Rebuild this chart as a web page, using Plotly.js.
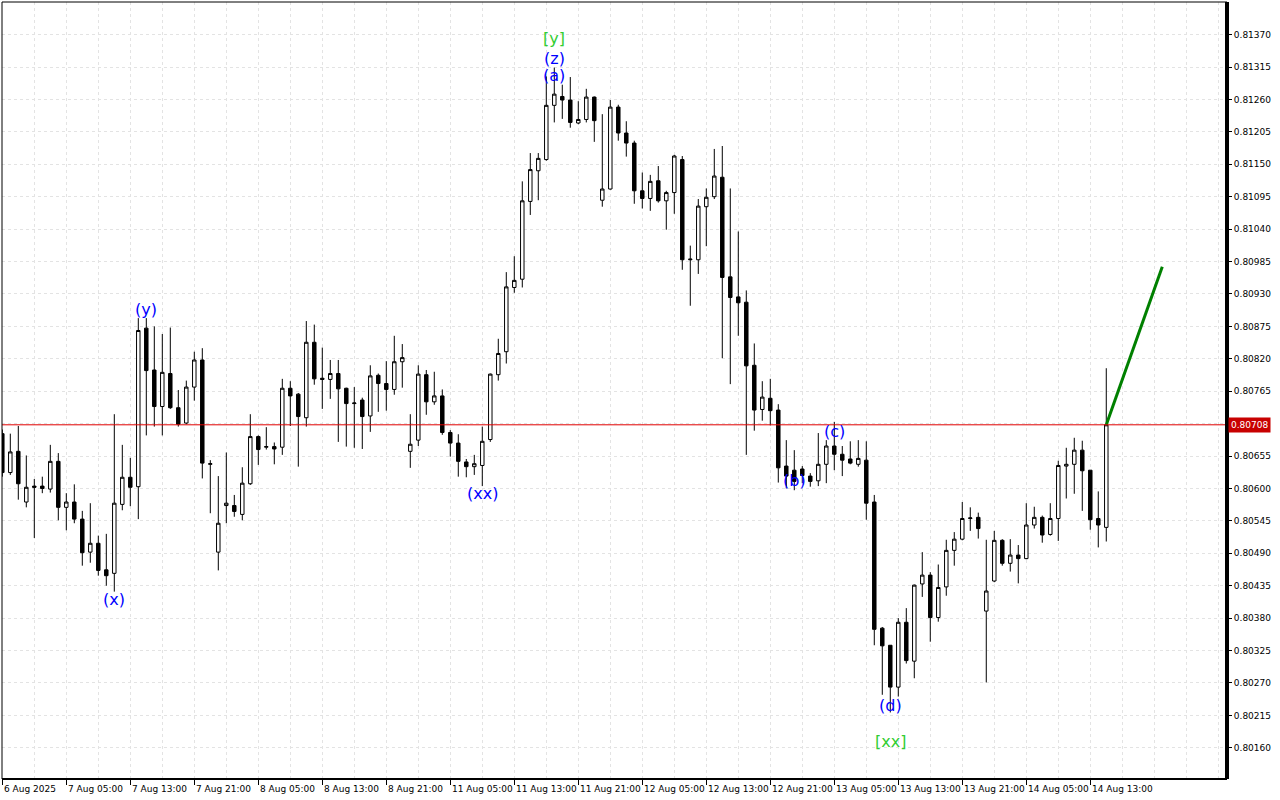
<!DOCTYPE html>
<html>
<head>
<meta charset="utf-8">
<script src="https://cdn.plot.ly/plotly-3.0.1.min.js"></script>
<style>
html,body{margin:0;padding:0;background:#fff;}
#chart{width:1280px;height:800px;}
</style>
</head>
<body>
<div id="chart"></div>
<script>
// ---- data (hourly candles, index 0 = 6 Aug 2025 21:00) ----
const open = [0.80693,0.80627,0.80663,0.80577,0.80604,0.80604,0.80599,0.80646,0.80568,0.80577,
0.80548,0.80492,0.80507,0.80462,0.80456,0.80573,0.80619,0.80603,0.80872,0.80801,
0.80739,0.80795,0.80737,0.80711,0.80772,0.80818,0.80641,0.80492,0.80571,0.80571,
0.80556,0.80608,0.80688,0.80670,0.80671,0.80670,0.80770,0.80760,0.80720,0.80848,
0.80787,0.80785,0.80795,0.80770,0.80744,0.80750,0.80723,0.80792,0.80778,0.80768,
0.80815,0.80663,0.80682,0.80793,0.80747,0.80757,0.80695,0.80677,0.80645,0.80637,
0.80639,0.80683,0.80793,0.80832,0.80941,0.80955,0.81087,0.81139,0.81158,0.81250,
0.81265,0.81259,0.81220,0.81226,0.81264,0.81089,0.81108,0.81247,0.81203,0.81186,
0.81105,0.81092,0.81122,0.81088,0.81102,0.81158,0.80988,0.80988,0.81078,0.81095,
0.81128,0.80959,0.80925,0.80916,0.80809,0.80734,0.80753,0.80733,0.80638,0.80631,
0.80633,0.80621,0.80613,0.80641,0.80672,0.80658,0.80650,0.80641,0.80648,0.80577,
0.80363,0.80334,0.80263,0.80373,0.80307,0.80438,0.80453,0.80381,0.80433,0.80495,
0.80514,0.80549,0.80551,0.80392,0.80443,0.80512,0.80473,0.80487,0.80481,0.80538,
0.80551,0.80522,0.80549,0.80638,0.80641,0.80665,0.80631,0.80549,0.80534];
const high = [0.80700,0.80693,0.80706,0.80656,0.80616,0.80620,0.80674,0.80660,0.80592,0.80607,
0.80562,0.80575,0.80520,0.80523,0.80726,0.80674,0.80652,0.80889,0.80889,0.80875,
0.80862,0.80873,0.80767,0.80783,0.80832,0.80838,0.80648,0.80621,0.80661,0.80589,
0.80636,0.80726,0.80690,0.80704,0.80678,0.80786,0.80782,0.80762,0.80884,0.80878,
0.80839,0.80818,0.80818,0.80771,0.80772,0.80754,0.80809,0.80795,0.80816,0.80859,
0.80845,0.80726,0.80809,0.80801,0.80798,0.80768,0.80699,0.80692,0.80650,0.80657,
0.80705,0.80795,0.80854,0.80967,0.80994,0.81121,0.81169,0.81169,0.81299,0.81314,
0.81285,0.81298,0.81257,0.81278,0.81265,0.81235,0.81259,0.81251,0.81223,0.81190,
0.81136,0.81132,0.81147,0.81105,0.81166,0.81164,0.81012,0.81091,0.81109,0.81176,
0.81181,0.81109,0.81036,0.80936,0.80846,0.80782,0.80786,0.80743,0.80682,0.80665,
0.80638,0.80626,0.80694,0.80682,0.80713,0.80672,0.80680,0.80682,0.80680,0.80589,
0.80365,0.80334,0.80380,0.80397,0.80437,0.80492,0.80458,0.80471,0.80513,0.80526,
0.80577,0.80568,0.80559,0.80513,0.80528,0.80514,0.80514,0.80504,0.80575,0.80569,
0.80554,0.80575,0.80647,0.80669,0.80686,0.80681,0.80631,0.80595,0.80804];
const low = [0.80620,0.80623,0.80581,0.80568,0.80516,0.80592,0.80593,0.80546,0.80529,0.80541,
0.80469,0.80474,0.80452,0.80435,0.80425,0.80563,0.80570,0.80548,0.80690,0.80705,
0.80690,0.80735,0.80705,0.80709,0.80749,0.80617,0.80558,0.80461,0.80541,0.80552,
0.80546,0.80606,0.80640,0.80666,0.80641,0.80657,0.80706,0.80637,0.80705,0.80776,
0.80735,0.80752,0.80679,0.80671,0.80669,0.80667,0.80696,0.80730,0.80732,0.80759,
0.80771,0.80635,0.80672,0.80725,0.80742,0.80691,0.80654,0.80620,0.80619,0.80623,
0.80604,0.80679,0.80783,0.80812,0.80932,0.80941,0.81064,0.81089,0.81156,0.81221,
0.81227,0.81212,0.81218,0.81221,0.81188,0.81078,0.81107,0.81190,0.81163,0.81083,
0.81075,0.81071,0.81085,0.81039,0.81066,0.80971,0.80910,0.80964,0.81011,0.81091,
0.80821,0.80777,0.80859,0.80657,0.80698,0.80715,0.80707,0.80610,0.80600,0.80597,
0.80609,0.80603,0.80604,0.80609,0.80631,0.80621,0.80641,0.80637,0.80547,0.80334,
0.80250,0.80220,0.80247,0.80303,0.80278,0.80416,0.80340,0.80374,0.80418,0.80469,
0.80512,0.80528,0.80515,0.80271,0.80441,0.80469,0.80459,0.80439,0.80480,0.80532,
0.80508,0.80520,0.80511,0.80583,0.80591,0.80562,0.80530,0.80500,0.80510];
const close = [0.80627,0.80662,0.80608,0.80602,0.80602,0.80600,0.80646,0.80568,0.80577,0.80548,
0.80491,0.80507,0.80461,0.80452,0.80575,0.80619,0.80602,0.80868,0.80800,0.80739,
0.80797,0.80737,0.80709,0.80772,0.80818,0.80643,0.80642,0.80541,0.80575,0.80561,
0.80609,0.80688,0.80666,0.80671,0.80667,0.80770,0.80757,0.80722,0.80848,0.80786,
0.80785,0.80795,0.80769,0.80744,0.80745,0.80722,0.80791,0.80778,0.80768,0.80815,
0.80822,0.80675,0.80794,0.80747,0.80757,0.80695,0.80677,0.80646,0.80637,0.80642,
0.80680,0.80794,0.80829,0.80942,0.80953,0.81088,0.81141,0.81160,0.81250,0.81269,
0.81259,0.81221,0.81226,0.81264,0.81224,0.81108,0.81247,0.81203,0.81186,0.81105,
0.81092,0.81121,0.81088,0.81102,0.81164,0.80988,0.80989,0.81079,0.81094,0.81130,
0.80958,0.80924,0.80915,0.80808,0.80733,0.80755,0.80732,0.80635,0.80621,0.80612,
0.80622,0.80612,0.80641,0.80672,0.80658,0.80648,0.80643,0.80651,0.80575,0.80361,
0.80333,0.80263,0.80373,0.80308,0.80436,0.80453,0.80381,0.80432,0.80495,0.80514,
0.80549,0.80550,0.80532,0.80426,0.80512,0.80473,0.80487,0.80481,0.80538,0.80551,
0.80521,0.80549,0.80639,0.80641,0.80665,0.80630,0.80547,0.80538,0.80708];

const xTickLabels = ["6 Aug 2025","7 Aug 05:00","7 Aug 13:00","7 Aug 21:00","8 Aug 05:00","8 Aug 13:00",
"8 Aug 21:00","11 Aug 05:00","11 Aug 13:00","11 Aug 21:00","12 Aug 05:00","12 Aug 13:00",
"12 Aug 21:00","13 Aug 05:00","13 Aug 13:00","13 Aug 21:00","14 Aug 05:00","14 Aug 13:00"];
const xTickIndex = [0,8,16,24,32,40,48,56,64,72,80,88,96,104,112,120,128,136];

const yTickLabels = ["0.81370","0.81315","0.81260","0.81205","0.81150","0.81095","0.81040","0.80985",
"0.80930","0.80875","0.80820","0.80765","0.80710","0.80655","0.80600","0.80545","0.80490","0.80435",
"0.80380","0.80325","0.80270","0.80215","0.80160"];

const currentPrice = 0.80708;

const forecastIdx = [138, 145];
const forecastPrice = [0.80708, 0.80976];

const waveText  = ["(x)","(y)","(xx)","[y]","(z)","(a)","(b)","(c)","(d)","[xx]"];
const waveIdx   = [14, 18, 60, 69, 69, 69, 99, 104, 111, 111];
const wavePrice = [0.80411,0.80903,0.80591,0.81363,0.81330,0.81300,0.80613,0.80697,0.80231,0.80170];

// ---- chart ----
const idx = open.map((_, i) => i);
const gridCol = '#e3e3e3';

const candle = {
  type: 'candlestick',
  x: idx, open: open, high: high, low: low, close: close,
  increasing: {line: {color: '#000000', width: 1}, fillcolor: '#ffffff'},
  decreasing: {line: {color: '#000000', width: 1}, fillcolor: '#000000'},
  whiskerwidth: 0,
  hoverinfo: 'skip',
  showlegend: false
};

const forecast = {
  type: 'scatter', mode: 'lines',
  x: forecastIdx, y: forecastPrice,
  line: {color: '#008000', width: 3},
  hoverinfo: 'skip', showlegend: false
};

const annotations = waveText.map((t, i) => ({
  x: waveIdx[i], y: wavePrice[i], xref: 'x', yref: 'y',
  text: t, showarrow: false,
  xanchor: 'center', yanchor: 'middle',
  font: {family: 'DejaVu Sans', size: 16, color: t.startsWith('[') ? '#32cd32' : '#0000ff'}
}));

// x-axis labels, left-aligned at their tick (as in the terminal)
xTickLabels.forEach((t, i) => annotations.push({
  x: xTickIndex[i], xref: 'x', y: 0, yref: 'paper',
  text: t, showarrow: false,
  xanchor: 'left', yanchor: 'top', xshift: 0, yshift: -3,
  font: {family: 'DejaVu Sans', size: 9, color: '#000'}
}));

annotations.push({
  x: 1, xref: 'paper', y: currentPrice, yref: 'y',
  text: currentPrice.toFixed(5), showarrow: false,
  xanchor: 'left', yanchor: 'middle', xshift: 1,
  bgcolor: '#c80000', borderpad: 2,
  font: {family: 'DejaVu Sans', size: 9, color: '#ffffff'}
});

const layout = {
  width: 1280, height: 800,
  margin: {l: 2, r: 53, t: 2, b: 21, pad: 0},
  paper_bgcolor: '#ffffff', plot_bgcolor: '#ffffff',
  showlegend: false,
  boxgap: 0.38,
  xaxis: {
    type: 'linear',
    range: [-0.0375, 153.09],
    rangeslider: {visible: false},
    tickmode: 'array', tickvals: xTickIndex, ticktext: xTickLabels.map(() => ''),
    ticks: 'outside', ticklen: 5, tickcolor: '#000', tickwidth: 1,
    tickangle: 0,
    showgrid: true, gridcolor: gridCol, gridwidth: 1, griddash: '3px,3px',
    minor: {dtick: 4, tick0: 0, showgrid: true, gridcolor: gridCol, gridwidth: 1, griddash: '3px,3px', ticks: ''},
    showline: false, zeroline: false, fixedrange: true
  },
  yaxis: {
    side: 'right',
    range: [0.801071, 0.814253],
    tickmode: 'array', tickvals: yTickLabels.map(Number),
    ticktext: yTickLabels.map(s => Math.abs(Number(s) - currentPrice) < 0.0001 ? '' : s),
    ticks: 'outside', ticklen: 4, tickcolor: '#000', tickwidth: 1,
    tickfont: {family: 'DejaVu Sans', size: 9, color: '#000'},
    showgrid: true, gridcolor: gridCol, gridwidth: 1, griddash: '3px,3px',
    showline: false, zeroline: false, fixedrange: true
  },
  shapes: [
    {type: 'line', xref: 'paper', yref: 'y', x0: 0, x1: 1, y0: currentPrice, y1: currentPrice,
     line: {color: '#e00000', width: 1}},
    {type: 'line', xref: 'paper', yref: 'paper', x0: 0, x1: 1, y0: 1, y1: 1, line: {color: '#000', width: 1}},
    {type: 'line', xref: 'paper', yref: 'paper', x0: 0, x1: 0, y0: 0, y1: 1, line: {color: '#000', width: 1}},
    {type: 'line', xref: 'paper', yref: 'paper', x0: 0, x1: 1, y0: 0, y1: 0, line: {color: '#000', width: 2}},
    {type: 'line', xref: 'paper', yref: 'paper', x0: 1, x1: 1, y0: 0, y1: 1, line: {color: '#000', width: 4}}
  ],
  annotations: annotations
};

Plotly.newPlot('chart', [candle, forecast], layout, {displayModeBar: false, staticPlot: true});
</script>
</body>
</html>
